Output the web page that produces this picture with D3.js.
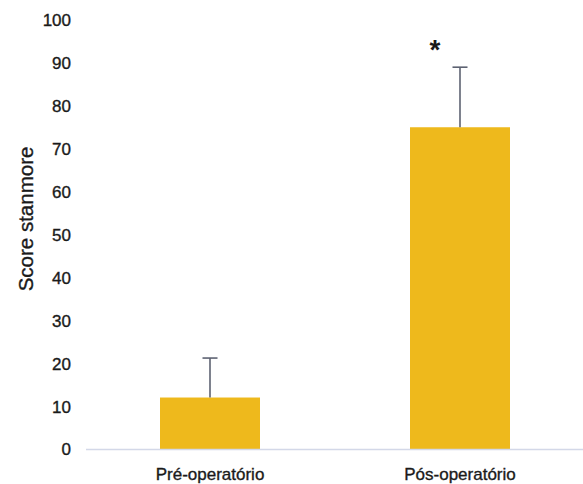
<!DOCTYPE html>
<html>
<head>
<meta charset="utf-8">
<script src="https://cdn.jsdelivr.net/npm/d3@7/dist/d3.min.js"></script>
<style>
  html, body { margin: 0; padding: 0; background: #fff; }
  svg { display: block; }
  text { font-family: "Liberation Sans", Arial, sans-serif; fill: #1a1a1a; }
</style>
</head>
<body>
<svg id="chart" width="583" height="484"></svg>
<script>
// Stanmore score before and after surgery (mean with upper error bar)
const categories = ["Pré-operatório", "Pós-operatório"];
const means = [12, 75];
const errorTops = [21.2, 89];
const significance = ["", "*"];
const yTicks = [0, 10, 20, 30, 40, 50, 60, 70, 80, 90, 100];

const svg = d3.select("#chart");
const ink = "#1c1c1c";

const x = d3.scaleBand()
  .domain(categories)
  .range([85, 585])
  .paddingInner(0.6)
  .paddingOuter(0.3);

const y = d3.scaleLinear()
  .domain([0, 100])
  .range([449, 20]);

// slightly heavier text, like a medium weight
function medium(sel) {
  sel.attr("fill", ink)
    .attr("stroke", ink)
    .attr("stroke-width", 0.35)
    .attr("font-family", "Liberation Sans, Arial, sans-serif");
}

// y-axis tick labels (no axis line or tick marks)
const yAxis = d3.axisLeft(y).tickValues(yTicks).tickSize(0).tickPadding(0);
const gy = svg.append("g").attr("transform", "translate(71,0)").call(yAxis);
gy.select(".domain").remove();
gy.selectAll("text")
  .attr("font-size", 17)
  .attr("dy", "0.35em")
  .call(medium);

// bars
svg.append("g").selectAll("rect")
  .data(categories)
  .join("rect")
  .attr("x", d => x(d))
  .attr("width", x.bandwidth())
  .attr("y", (d, i) => y(means[i]))
  .attr("height", (d, i) => y(0) - y(means[i]))
  .attr("fill", "#EEB91C");

// baseline
svg.append("line")
  .attr("x1", 86).attr("x2", 583)
  .attr("y1", y(0) + 0.5).attr("y2", y(0) + 0.5)
  .attr("stroke", "#d3d8e8").attr("stroke-width", 1.5);

// error bars (upper whisker only)
const eg = svg.append("g").attr("stroke", "#5d6272").attr("stroke-width", 1.6);
categories.forEach((c, i) => {
  const cx = x(c) + x.bandwidth() / 2;
  eg.append("line")
    .attr("x1", cx).attr("x2", cx)
    .attr("y1", y(means[i])).attr("y2", y(errorTops[i]));
  eg.append("line")
    .attr("x1", cx - 7.5).attr("x2", cx + 7.5)
    .attr("y1", y(errorTops[i])).attr("y2", y(errorTops[i]));
});

// significance marker
categories.forEach((c, i) => {
  if (!significance[i]) return;
  svg.append("text")
    .attr("x", x(c) + x.bandwidth() / 2 - 25)
    .attr("y", 59)
    .attr("text-anchor", "middle")
    .attr("font-size", 28)
    .attr("font-weight", "bold")
    .attr("fill", ink)
    .text(significance[i]);
});

// category labels
const xAxis = d3.axisBottom(x).tickSize(0).tickPadding(0);
const gx = svg.append("g").attr("transform", "translate(0,480)").call(xAxis);
gx.select(".domain").remove();
gx.selectAll("text")
  .attr("font-size", 17)
  .attr("dy", "0")
  .call(medium);

// y-axis title
svg.append("text")
  .attr("transform", "translate(33,219) rotate(-90)")
  .attr("text-anchor", "middle")
  .attr("font-size", 20.5)
  .text("Score stanmore")
  .call(medium);
</script>
</body>
</html>
